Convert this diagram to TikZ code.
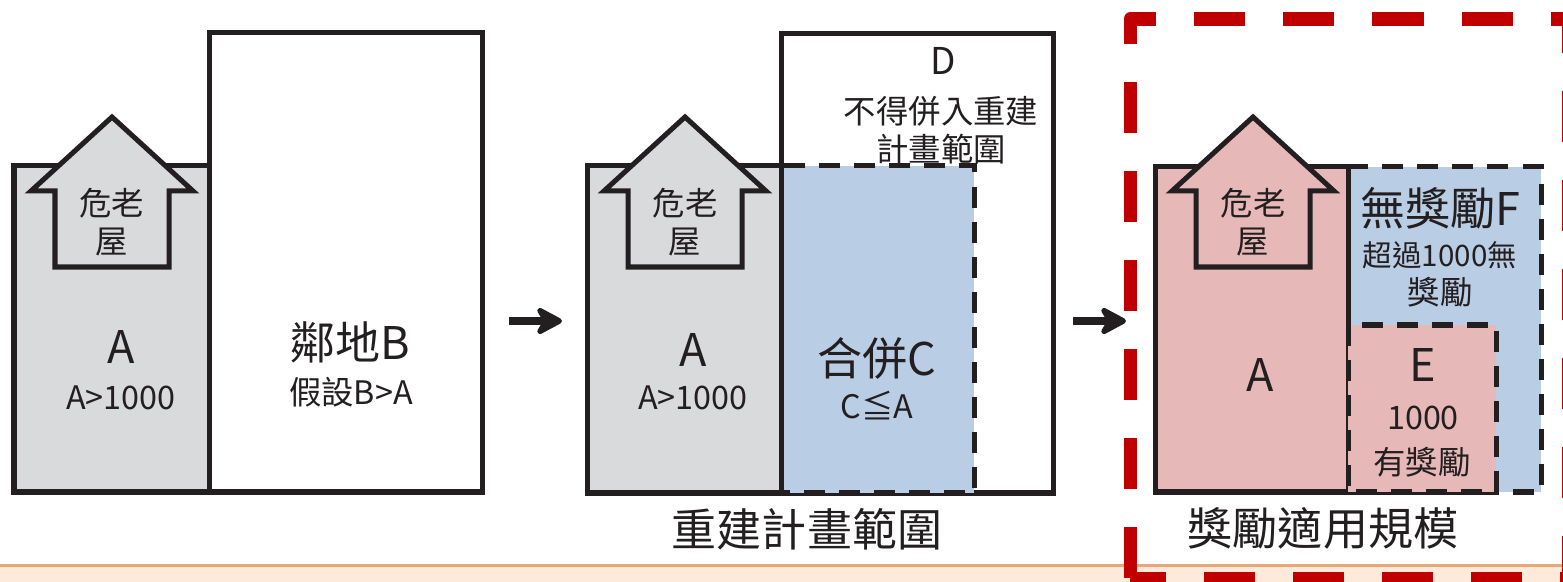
\documentclass[tikz,border=0pt]{standalone}
\usepackage{fontspec}
\setmainfont{Noto Sans CJK TC}
\usetikzlibrary{arrows.meta}

\definecolor{oldgrey}{HTML}{D9DADC}
\definecolor{mergeblue}{HTML}{B9CDE5}
\definecolor{bonuspink}{HTML}{E6B9B8}
\definecolor{framered}{HTML}{C00000}
\definecolor{bandline}{HTML}{E8A77A}
\definecolor{bandfill}{HTML}{FDEADA}
\definecolor{ink}{HTML}{231F20}

\tikzset{
  wall/.style={draw=ink, line width=0.05cm},
  seam/.style={draw=ink, line width=0.05cm, dash pattern=on 0.21cm off 0.14cm},
  redframe/.style={draw=framered, line width=0.13cm, line join=round,
    dash pattern=on 0.51cm off 0.38cm, dash phase=0.88cm},
  flow/.style={draw=ink, line width=0.08cm,
    -{Stealth[length=0.32cm, width=0.34cm, inset=0.1cm, round]}},
  big/.style={text=ink, inner sep=0pt, font=\fontsize{12.8}{14}\selectfont},
  small/.style={text=ink, inner sep=0pt, align=center,
    font=\fontsize{9.2}{10.8}\selectfont}
}

\newcommand{\oldhouse}[3]{
  \draw[wall, fill=#2] (#1+98,117) -- (#1+179,191) -- (#1+155,191)
  -- (#1+155,267) -- (#1+41,267) -- (#1+41,191) -- (#1+17,191) -- cycle;
  \node[small] (#3) at (#1+98,222) {危老\\屋};
}

\begin{document}
\begin{tikzpicture}[x=0.01cm, y=-0.01cm]
  \path[use as bounding box] (0,0) rectangle (1563,582);

  % Band
  % ====
  \fill[bandfill] (0,565) rectangle (1563,582);
  \draw[bandline, line width=0.03cm] (0,565) -- (1563,565);

  % Panel 1
  % =======
  \draw[wall, fill=oldgrey] (14,166) rectangle (209,492);
  \draw[wall, fill=white] (209,33) rectangle (482,492);
  \oldhouse{14}{oldgrey}{hseA};

  \node[big] (aA) at (121,347) {A};
  \node[small] (aAsz) at (121,398) {A>1000};
  \node[big] (bB) at (350,342) {鄰地B};
  \node[small] (bBsz) at (351,392) {假設B>A};

  \coordinate (goA1) at (509,321);
  \coordinate (goA2) at (562,321);
  \draw[flow] (goA1) -- (goA2);

  % Panel 2
  % =======
  \draw[wall, fill=oldgrey] (587,166) rectangle (781,493);
  \draw[wall, fill=white] (781,34) rectangle (1053,493);
  \draw[seam, fill=mergeblue] (781,166) rectangle (974,493);
  \draw[wall] (781,34) -- (781,493) (587,166) -- (790,166);
  \oldhouse{587}{oldgrey}{hseB};

  \node[big] (cA) at (693,350) {A};
  \node[small] (cAsz) at (693,398) {A>1000};
  \node[big] (cC) at (877,359) {合併C};
  \node[small] (cCsz) at (877,406) {C≦A};
  \node[text=ink, inner sep=0pt, font=\fontsize{10.5}{12}\selectfont] (dD) at (943,61) {D};
  \node[small] (dDtx) at (941,130) {不得併入重建\\計畫範圍};
  \node[big] (planlbl) at (807,529) {重建計畫範圍};

  \coordinate (goB1) at (1073,321);
  \coordinate (goB2) at (1126,321);
  \draw[flow] (goB1) -- (goB2);

  % Panel 3
  % =======
  \draw[seam, fill=mergeblue] (1348,167) rectangle (1541,492);
  \draw[wall, fill=bonuspink] (1155,167) rectangle (1348,492);
  \draw[wall] (1348,167) -- (1368,167);
  \oldhouse{1155}{bonuspink}{hseC};
  \draw[seam, fill=bonuspink] (1348,325) rectangle (1496,492);

  \node[big] (eA) at (1260,375) {A};
  \node[big] (fF) at (1440,208) {無獎勵F};
  \node[small, font=\fontsize{8.4}{10}\selectfont] (fFtx) at (1440,255) {超過1000無};
  \node[small] (fFtx2) at (1440,292) {獎勵};
  \node[big] (eE) at (1423,365) {E};
  \node[small] (eEsz) at (1423,418) {1000};
  \node[small] (eEtx) at (1422,462) {有獎勵};
  \node[big] (scalelbl) at (1323,528) {獎勵適用規模};

  % Frame
  % =====
  \begin{scope}
    \clip (0,0) rectangle (1563,582);
    \draw[redframe] (1130,579) -- (1130,19) -- (1568,19) -- (1568,579) -- cycle;
  \end{scope}

\end{tikzpicture}
\end{document}
